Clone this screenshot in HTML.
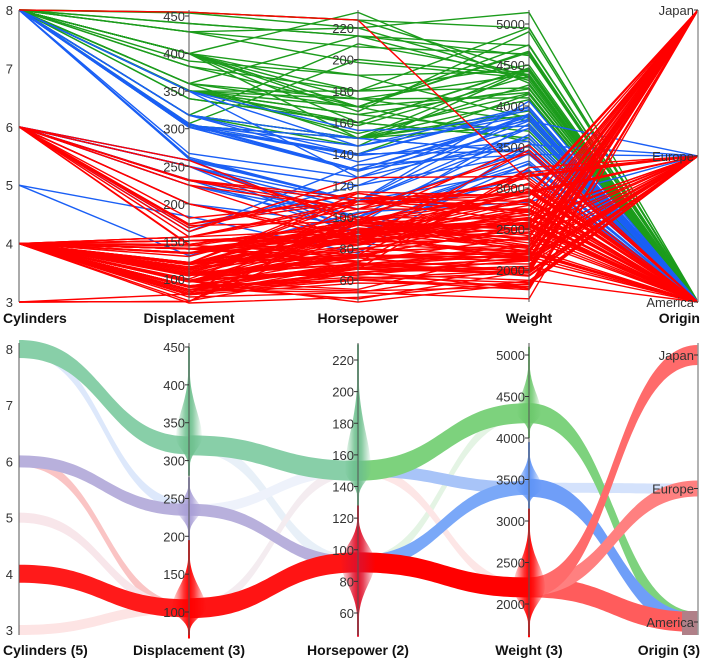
<!DOCTYPE html>
<html><head><meta charset="utf-8"><style>
body{margin:0;background:#fff;}
svg{display:block;font-family:"Liberation Sans",sans-serif;}
.tk{font-size:13px;fill:#333;}
.ax{font-size:14px;font-weight:bold;fill:#111;}
</style></head><body>
<svg id="chart" width="709" height="668" viewBox="0 0 709 668">
<g id="top"></g>
<g id="bot"></g>
</svg>
<script>
// ---------- data ----------
const dims = ["Cylinders","Displacement","Horsepower","Weight","Origin"];
const bottomTitles = ["Cylinders (5)","Displacement (3)","Horsepower (2)","Weight (3)","Origin (3)"];
const originNames = ["America","Europe","Japan"];
const cylTicks = [3,4,5,6,7,8];
const dispTicks = [100,150,200,250,300,350,400,450];
const hpTicks = [60,80,100,120,140,160,180,200,220];
const wtTicks = [2000,2500,3000,3500,4000,4500,5000];
// rows: [cyl, disp, hp, weight, origin]
const greenRows = [[8,455,225,4425,0],[8,440,215,4312,0],[8,429,198,4341,0],[8,400,230,4278,0],[8,454,220,4354,0],[8,350,165,3693,0],[8,383,170,3563,0],[8,340,160,3609,0],[8,400,150,3761,0],[8,400,175,4385,0],[8,429,208,4633,0],[8,455,225,4951,0],[8,350,180,4499,0],[8,400,170,4746,0],[8,351,153,4154,0],[8,318,150,4077,0],[8,360,175,3821,0],[8,304,150,3892,0],[8,307,200,4376,0],[8,318,210,4382,0],[8,350,165,4209,0],[8,440,215,4735,0],[8,400,190,4422,0],[8,302,140,4141,0],[8,360,215,4615,0],[8,350,175,4100,0],[8,400,167,4906,0],[8,383,180,4955,0],[8,360,150,3940,0],[8,318,150,4457,0],[8,351,158,4363,0],[8,400,180,4220,0],[8,350,160,4456,0],[8,400,170,4668,0],[8,429,220,5140,0],[8,304,150,4257,0],[8,390,190,3850,0],[8,340,160,3609,0],[8,360,170,4654,0],[8,318,145,4440,0],[8,350,170,4165,0],[8,400,160,4464,0]];
const blueRows = [[8,318,150,3436,0],[8,304,150,3433,0],[8,302,140,3449,0],[8,307,130,3504,0],[8,260,110,4060,0],[8,302,130,3870,0],[8,305,145,3880,0],[8,350,145,3988,0],[8,318,140,3980,0],[8,305,130,3840,0],[8,302,129,3725,0],[8,260,90,3420,0],[8,350,125,3900,0],[8,267,125,3605,0],[8,302,139,3570,0],[8,318,135,3830,0],[8,262,110,3221,0],[8,350,155,3755,0],[8,305,140,3955,0],[6,250,100,3329,0],[6,250,105,3459,0],[6,232,100,3288,0],[6,250,110,3645,0],[6,258,110,3730,0],[6,225,95,3785,0],[6,231,110,3907,0],[6,250,88,3302,0],[6,225,100,3651,0],[6,168,120,3820,1],[6,163,133,3410,1],[5,183,77,3530,1],[5,131,103,2830,1],[6,232,90,3210,0],[6,200,95,3155,0],[6,258,120,3410,0]];
const redRows = [[8,455,225,3086,0],[4,140,90,2264,0],[4,122,86,2220,0],[4,97,46,1835,1],[4,113,95,2228,2],[4,97,88,2130,2],[4,140,72,2408,0],[4,151,90,2556,0],[4,98,65,2045,0],[4,91,68,1970,2],[4,120,97,2506,2],[4,107,86,2464,1],[4,121,112,2933,1],[4,116,90,2123,1],[4,79,67,1963,1],[4,97,78,2300,1],[4,85,65,2110,2],[4,89,62,1845,1],[4,156,105,2745,0],[4,135,84,2370,0],[4,105,63,2125,0],[4,119,97,2300,2],[4,134,95,2560,2],[4,151,88,2740,0],[4,90,48,1985,1],[4,86,65,2019,2],[4,146,67,3250,1],[4,141,71,3190,1],[4,120,88,2957,1],[4,108,93,2391,2],[4,98,83,2219,0],[4,79,58,1825,1],[4,71,65,1773,2],[4,76,52,1649,2],[4,83,61,2003,2],[4,90,75,2108,1],[4,112,88,2640,0],[4,140,83,2639,0],[4,122,80,2451,0],[4,105,74,1980,1],[4,91,53,1795,2],[4,68,49,1867,1],[4,151,84,2635,0],[4,130,102,3150,1],[4,121,115,2671,1],[4,110,87,2672,1],[4,104,95,2375,1],[4,97,75,2155,2],[4,144,96,2665,2],[4,107,75,2205,2],[4,156,92,2620,0],[4,119,100,2615,2],[4,134,90,2711,2],[4,120,75,2542,2],[4,100,100,2210,0],[4,98,80,2164,0],[4,86,64,1875,0],[4,91,60,1800,2],[4,135,96,2545,0],[4,140,88,2870,0],[4,121,110,2600,1],[4,97,67,2145,2],[4,81,60,1760,2],[4,89,71,1925,1],[4,151,85,2855,0],[4,112,85,2575,0],[4,105,70,2200,0],[4,98,68,2135,2],[4,120,79,2625,0],[4,119,82,2720,2],[4,108,70,2245,2],[4,135,84,2525,0],[4,156,110,2800,0],[4,97,54,2254,1],[4,116,75,2158,1],[4,140,86,2790,0],[4,98,76,2144,1],[4,85,70,1990,2],[4,122,88,2500,0],[4,113,95,2278,2],[4,121,98,2945,1],[4,97,92,2288,2],[4,140,75,2542,0],[4,120,97,2489,2],[4,96,69,2189,1],[4,151,90,2950,0],[4,89,60,1968,1],[4,105,75,2230,0],[4,91,67,1965,2],[4,107,72,2290,2],[4,146,97,2900,2],[4,121,76,2511,1],[4,90,70,1937,1],[4,140,92,2572,0],[4,114,91,2582,1],[4,79,70,2074,1],[4,86,52,2045,2],[6,225,105,3121,0],[6,200,85,2990,0],[6,231,105,3425,0],[6,173,115,2700,0],[6,181,110,2945,0],[6,156,108,2930,2],[6,168,116,2900,2],[6,200,88,3060,0],[6,173,110,2725,0],[6,146,97,2815,2],[6,250,98,3525,0],[6,171,97,2984,0],[6,145,76,3160,1],[6,163,125,3140,1],[6,258,95,3193,0],[6,225,85,3465,0],[6,232,112,2835,0],[6,200,85,2965,0],[6,231,110,3039,0],[3,70,90,2124,2],[3,70,97,2330,2],[3,80,110,2720,2],[3,70,100,2420,2]];
// bottom: bundled ribbons per segment [fromValue, toValue, width(px), colour, opacity]
const seg0 = [[8,240,10,"#dde8fb",1],[6,105,10,"#fac4c4",1],[5,105,10,"#f8e6ea",1],[3,105,10,"#fde4e4",1],[8,320,18,"#88cfa8",1],[6,235,12,"#b8b0dc",1],[4,105,18,"#ff1a1a",1]];
const seg1 = [[320,92,12,"#e8f0f8",1],[235,150,10,"#eef2fb",1],[105,150,10,"#f4ecf0",1],[320,150,20,"#88cfa8",1],[235,92,12,"#b8b0dc",1],[105,92,20,"#ff1414",1]];
const seg2 = [[92,4300,10,"#e4f4e4",1],[150,2200,10,"#fde6e6",1],[150,3400,12,"#a8c4f8",1],[92,3400,14,"#7aa8f8",1],[150,4300,20,"#7dd27d",1],[92,2200,20,"#ff0000",1]];
const seg3 = [[3400,1,10,"#d4e2fc",1],[4300,0,20,"#7dd27d",1],[3400,0,18,"#6f9ef8",1],[2200,0,20,"#ff5c5c",1],[2200,1,16,"#ff8080",1],[2200,2,20,"#ff6b6b",1]];
// spindles per axis: [axisIndex, center, low, high, halfWidth, colour]
const spindles = [[1,330,280,450,13,"#6cbf8c"],[1,235,195,278,12,"#a89ed6"],[1,105,65,195,17,"#ff0000"],[2,150,128,230,13,"#6cbf8c"],[2,92,45,128,17,"#e0102a"],[3,4300,4000,5100,12,"#6cc86c"],[3,3400,3150,3950,13,"#5f94f6"],[3,2200,1600,3150,16,"#ff0000"]];

// ---------- helpers ----------
const NS="http://www.w3.org/2000/svg";
function mk(tag,attrs,parent){const e=document.createElementNS(NS,tag);for(const k in attrs)e.setAttribute(k,attrs[k]);parent.appendChild(e);return e;}
const axX=[19,189,358,529,698];
function lin(d0,d1,r0,r1){return v=>r0+(v-d0)/(d1-d0)*(r1-r0);}
const topScales=[lin(3,8,302,10),lin(100,450,279,16),lin(60,220,280,28),lin(2000,5000,270,24),lin(0,2,302,10)];
const botScales=[lin(3,8,630,349),lin(100,450,612,347),lin(60,220,613,360),lin(2000,5000,604,355),lin(0,2,622,355)];
const tickSets=[cylTicks,dispTicks,hpTicks,wtTicks,[0,1,2]];

function drawAxes(g,scales,titles,titleY,top,bot){
  for(let i=0;i<5;i++){
    const ax=mk("g",{},g);
    
    
    mk("line",{x1:axX[i],x2:axX[i],y1:top,y2:bot,stroke:i==4?"#999":"#555","stroke-width":i==4?1.5:1},ax);
    tickSets[i].forEach(t=>{
      const y=scales[i](t);
      const lbl=i==4?originNames[t]:String(t);
      if(i==0){
        mk("text",{x:axX[i]-6,y:y+5,"text-anchor":"end",class:"tk"},ax).textContent=lbl;
      }else{
        mk("line",{x1:axX[i]-4,x2:axX[i],y1:y,y2:y,stroke:"#333"},ax);
        mk("text",{x:axX[i]-4,y:y+5,"text-anchor":"end",class:"tk"},ax).textContent=lbl;
      }
    });
    const tt=mk("text",{x:i==0?3:(i==4?700:axX[i]),y:titleY,"text-anchor":i==0?"start":(i==4?"end":"middle"),class:"ax"},ax);
    tt.textContent=titles[i];
    
    
  }
}

// ---------- top panel ----------
const topG=document.getElementById("top");
const lineG=mk("g",{fill:"none","stroke-width":1.4},topG);


[[greenRows,"#1c9c1c","green-cluster"],[blueRows,"#1a5ff5","blue-cluster"],[redRows,"#ff0000","red-cluster"]].forEach(([rows,col,name])=>{
  rows.forEach(r=>{
    const pts=r.map((v,i)=>axX[i]+","+topScales[i](v).toFixed(1)).join(" ");
    const pl=mk("polyline",{points:pts,stroke:col},lineG);
    
    
  });
});
drawAxes(topG,topScales,dims,323,10,302);

// ---------- bottom panel ----------
const botG=document.getElementById("bot");
const defs=mk("defs",{},botG);
const ribG=mk("g",{},botG);


[seg0,seg1,seg2,seg3].forEach((seg,s)=>{
  const x1=axX[s],x2=axX[s+1],xm=(x1+x2)/2;
  seg.forEach(b=>{
    const y1=botScales[s](b[0]),y2=botScales[s+1](b[1]),h=b[2]/2;
    const d=`M${x1},${y1-h} C${xm},${y1-h} ${xm},${y2-h} ${x2},${y2-h} L${x2},${y2+h} C${xm},${y2+h} ${xm},${y1+h} ${x1},${y1+h} Z`;
    const p=mk("path",{d:d,fill:b[3],opacity:b[4]},ribG);
    
    
  });
});
const patch=mk("rect",{x:682,y:611,width:16,height:24,fill:"#b08088"},botG);


spindles.forEach((sp,k)=>{
  const [ai,c,lo,hi,W,col]=sp, sc=botScales[ai], x=axX[ai];
  const gid="sg"+k;
  const gr=mk("linearGradient",{id:gid,x1:0,x2:1,y1:0,y2:0},defs);
  mk("stop",{offset:0,"stop-color":col,"stop-opacity":0.05},gr);
  mk("stop",{offset:0.35,"stop-color":col,"stop-opacity":0.8},gr);
  mk("stop",{offset:0.5,"stop-color":col,"stop-opacity":1},gr);
  mk("stop",{offset:0.65,"stop-color":col,"stop-opacity":0.8},gr);
  mk("stop",{offset:1,"stop-color":col,"stop-opacity":0.05},gr);
  const yc=sc(c),ylo=sc(lo),yhi=sc(hi);
  let L=[],R=[];
  for(let t=0;t<=40;t++){
    const y=yhi+(ylo-yhi)*t/40;
    const sig=(y<yc?(yc-yhi):(ylo-yc))/2.4;
    const w=Math.max(1,W*Math.exp(-Math.pow((y-yc)/sig,2)));
    R.push(`${(x+w).toFixed(1)},${y.toFixed(1)}`);L.unshift(`${(x-w).toFixed(1)},${y.toFixed(1)}`);
  }
  const p=mk("polygon",{points:R.concat(L).join(" "),fill:`url(#${gid})`},botG);
  
  
});
drawAxes(botG,botScales,bottomTitles,655,343,635);
</script>
</body></html>
